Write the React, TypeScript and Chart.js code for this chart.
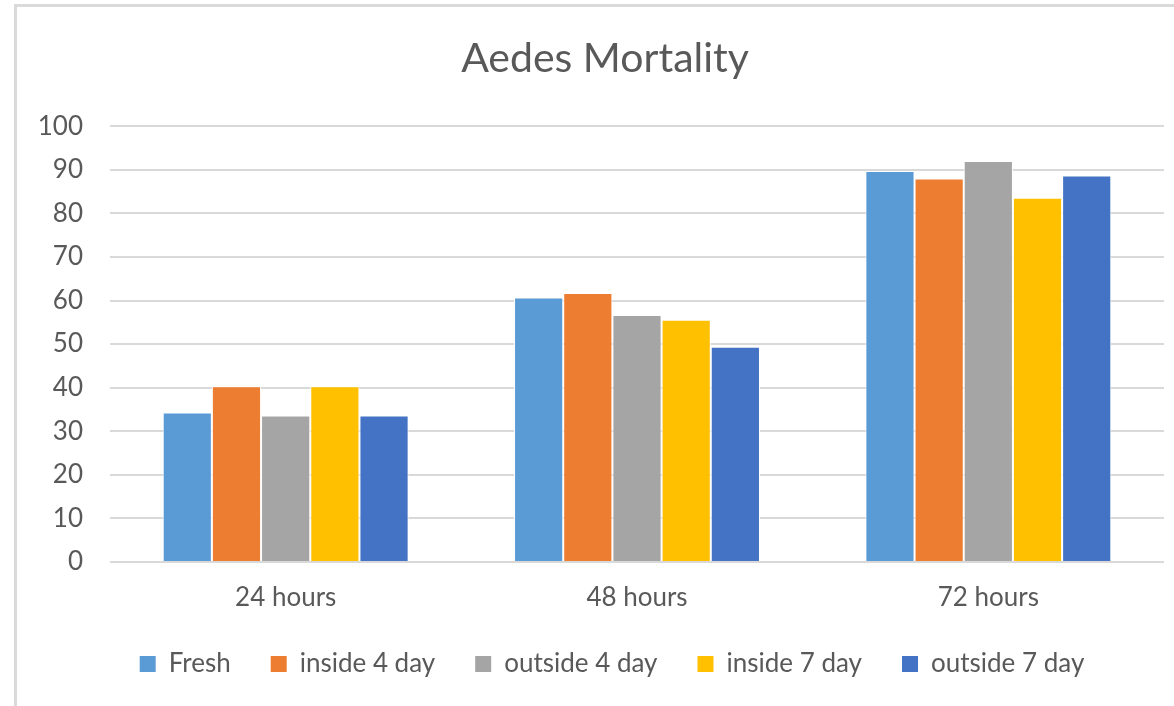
import React, { useEffect, useRef } from "react";
import { Chart, registerables } from "chart.js";

Chart.register(...registerables);

const chartTitle = "Aedes Mortality";
const categories = ["24 hours", "48 hours", "72 hours"];
const seriesNames = ["Fresh", "inside 4 day", "outside 4 day", "inside 7 day", "outside 7 day"];
const fresh = [34.3, 60.7, 89.7];
const inside4Day = [40.3, 61.7, 88.0];
const outside4Day = [33.6, 56.7, 92.0];
const inside7Day = [40.3, 55.6, 83.6];
const outside7Day = [33.6, 49.4, 88.7];
const seriesColors = ["#5B9BD5", "#ED7D31", "#A5A5A5", "#FFC000", "#4472C4"];
const yMin = 0;
const yMax = 100;
const yStep = 10;

const FONT = "Lato, 'Open Sans', sans-serif";
const TEXT = "#595959";

const shiftBoxes = {
  id: "shiftBoxes",
  afterLayout(chart: any) {
    if (chart.legend) {
      chart.legend.left += 13;
      chart.legend.right += 13;
    }
    if (chart.titleBlock) {
      chart.titleBlock.left += 6;
      chart.titleBlock.right += 6;
    }
  },
};

export default function App() {
  const ref = useRef<HTMLCanvasElement | null>(null);

  useEffect(() => {
    if (!ref.current) return;
    const values = [fresh, inside4Day, outside4Day, inside7Day, outside7Day];
    const chart = new Chart(ref.current, {
      type: "bar",
      data: {
        labels: categories,
        datasets: seriesNames.map((name, i) => ({
          label: name,
          data: values[i],
          backgroundColor: seriesColors[i],
          borderColor: "#ffffff",
          borderWidth: 1,
          categoryPercentage: 0.7,
          barPercentage: 1,
        })),
      },
      plugins: [shiftBoxes],
      options: {
        animation: false,
        responsive: false,
        maintainAspectRatio: false,
        layout: { padding: { left: 34, right: 10, top: 0, bottom: 19 } },
        plugins: {
          title: {
            display: true,
            text: chartTitle,
            color: TEXT,
            font: { family: FONT, size: 41, weight: "normal" },
            padding: { top: 34, bottom: 43 },
          },
          legend: {
            position: "bottom",
            labels: {
              color: TEXT,
              font: { family: FONT, size: 26 },
              boxWidth: 16,
              boxHeight: 16,
              padding: 40,
              generateLabels: (c: any) =>
                Chart.defaults.plugins.legend.labels
                  .generateLabels(c)
                  .map((l: any) => ({ ...l, lineWidth: 0, strokeStyle: "rgba(0,0,0,0)" })),
            },
          },
          tooltip: { enabled: false },
        },
        scales: {
          x: {
            grid: { display: false, drawTicks: false },
            border: { display: false },
            ticks: { color: TEXT, font: { family: FONT, size: 26 }, padding: 20 },
            afterFit: (s: any) => {
              s.height = 49;
            },
          },
          y: {
            min: yMin,
            max: yMax,
            grid: { color: "#d9d9d9", lineWidth: 2, drawTicks: false },
            border: { display: false },
            ticks: {
              stepSize: yStep,
              color: TEXT,
              font: { family: FONT, size: 26 },
              padding: 27,
            },
            afterFit: (s: any) => {
              s.width = 76;
            },
          },
        },
      },
    });
    return () => chart.destroy();
  }, []);

  return (
    <div
      style={{
        position: "fixed",
        left: 0,
        top: 0,
        width: 1174,
        height: 706,
        overflow: "hidden",
        background: "#ffffff",
      }}
    >
      <div
        style={{
          position: "absolute",
          left: 14,
          top: 4,
          width: 1300,
          height: 800,
          border: "3px solid #dadada",
          boxSizing: "border-box",
        }}
      />
      <canvas
        ref={ref}
        width={1174}
        height={706}
        style={{ position: "absolute", left: 0, top: 0, width: 1174, height: 706 }}
      />
    </div>
  );
}
